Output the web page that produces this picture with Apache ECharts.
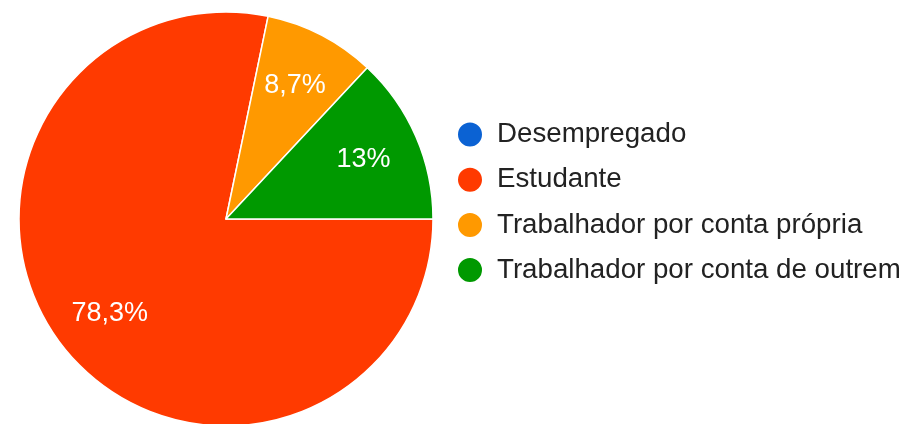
<!DOCTYPE html>
<html>
<head>
<meta charset="utf-8">
<script src="https://cdn.jsdelivr.net/npm/echarts@6/dist/echarts.min.js"></script>
<style>html,body{margin:0;padding:0;background:#fff;}#c{width:911px;height:424px;}</style>
</head>
<body>
<div id="c"></div>
<script>
const categories = ['Desempregado', 'Estudante', 'Trabalhador por conta própria', 'Trabalhador por conta de outrem'];
const counts = [0, 18, 2, 3];
const colors = ['#0b62d3', '#ff3a00', '#ff9900', '#009900'];

const total = counts.reduce((a, b) => a + b, 0);
function fmt(v) {
  let s = (v / total * 100).toFixed(1);
  if (s.endsWith('.0')) s = s.slice(0, -2);
  return s.replace('.', ',') + '%';
}
const R = 207;
const center = [226, 219];
const FONT = '"Liberation Sans", Arial, sans-serif';
const baseData = categories.map((n, i) => ({
  name: n, value: counts[i], itemStyle: { color: colors[i] },
  label: { show: counts[i] > 0 }
}));
const chart = echarts.init(document.getElementById('c'), null, { renderer: 'canvas' });
chart.setOption({
  animation: false,
  color: colors,
  legend: {
    orient: 'vertical', left: 451, top: 115.5, itemGap: 17.2,
    icon: 'circle', itemWidth: 26, itemHeight: 26,
    textStyle: { fontFamily: FONT, fontSize: 27.7, color: '#222', lineHeight: 27, padding: [0, 0, 0, 9] },
    data: categories
  },
  series: [
    {
      type: 'pie', center: center, radius: [0, R], startAngle: 0, clockwise: true,
      silent: true, stillShowZeroSum: true,
      itemStyle: { borderColor: '#fff', borderWidth: 1.5 },
      label: { show: false }, labelLine: { show: false },
      data: baseData.map(d => ({ name: d.name, value: d.value, itemStyle: d.itemStyle }))
    },
    {
      type: 'pie', center: center, radius: [R * 0.42, R], startAngle: 0, clockwise: true,
      silent: true, legendHoverLink: false,
      itemStyle: { color: 'rgba(0,0,0,0)', borderWidth: 0 },
      label: {
        show: true, position: 'inside', color: '#fff', fontFamily: FONT, fontSize: 27,
        formatter: p => fmt(p.value)
      },
      labelLine: { show: false },
      data: baseData.map(d => ({ name: d.name, value: d.value, label: d.label, itemStyle: { color: 'rgba(0,0,0,0)' } }))
    }
  ]
});
</script>
</body>
</html>
